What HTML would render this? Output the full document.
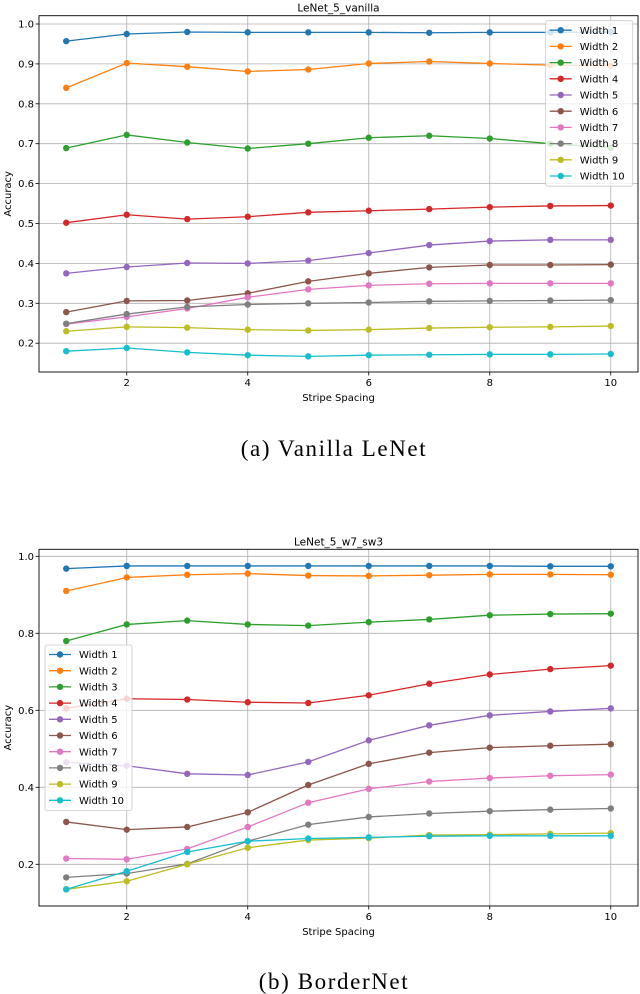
<!DOCTYPE html>
<html><head><meta charset="utf-8"><style>
body{margin:0;background:#fff;width:640px;height:994px;overflow:hidden}
svg{display:block}
text{font-family:"DejaVu Sans","Liberation Sans",sans-serif}
.cap{font-family:"Liberation Serif",serif;font-size:23px;letter-spacing:1.6px}
</style></head><body>
<svg id="svg" width="640" height="994">
<text class="cap" x="334" y="456" text-anchor="middle">(a) Vanilla LeNet</text>
<text class="cap" x="334" y="989" text-anchor="middle">(b) BorderNet</text>
</svg>
<script>
const xs=[1,2,3,4,5,6,7,8,9,10];
const seriesNames=["Width 1","Width 2","Width 3","Width 4","Width 5","Width 6","Width 7","Width 8","Width 9","Width 10"];
const colors=["#1f77b4","#ff7f0e","#2ca02c","#d62728","#9467bd","#8c564b","#e377c2","#7f7f7f","#bcbd22","#17becf"];
const xTicks=[2,4,6,8,10];
const yTicksA=[0.2,0.3,0.4,0.5,0.6,0.7,0.8,0.9,1.0];
const yTicksB=[0.2,0.4,0.6,0.8,1.0];
const a1=[.957,.975,.98,.979,.979,.979,.978,.979,.979,.98];
const a2=[.84,.902,.893,.881,.886,.901,.906,.901,.897,.895];
const a3=[.689,.722,.703,.688,.70,.715,.72,.713,.70,.69];
const a4=[.502,.522,.511,.517,.528,.532,.536,.541,.544,.545];
const a5=[.375,.391,.401,.40,.407,.426,.446,.456,.459,.459];
const a6=[.278,.306,.307,.325,.355,.375,.390,.396,.396,.397];
const a7=[.248,.266,.287,.315,.335,.345,.349,.350,.350,.350];
const a8=[.249,.273,.291,.297,.300,.302,.305,.306,.307,.308];
const a9=[.230,.241,.239,.234,.232,.234,.238,.240,.241,.243];
const a10=[.180,.188,.177,.170,.167,.170,.171,.172,.172,.173];
const b1=[.968,.975,.975,.975,.975,.975,.975,.975,.974,.974];
const b2=[.91,.945,.952,.955,.95,.949,.951,.953,.953,.952];
const b3=[.78,.823,.833,.823,.82,.829,.836,.847,.85,.851];
const b4=[.605,.63,.628,.621,.619,.639,.669,.693,.707,.716];
const b5=[.465,.456,.435,.432,.466,.522,.561,.587,.597,.605];
const b6=[.31,.29,.297,.335,.406,.461,.49,.503,.508,.512];
const b7=[.215,.213,.24,.297,.36,.396,.415,.424,.43,.433];
const b8=[.166,.176,.201,.26,.303,.323,.332,.338,.342,.345];
const b9=[.135,.156,.20,.243,.263,.268,.276,.277,.279,.281];
const b10=[.135,.182,.232,.26,.267,.27,.273,.274,.274,.274];
const seriesA=[a1,a2,a3,a4,a5,a6,a7,a8,a9,a10];
const seriesB=[b1,b2,b3,b4,b5,b6,b7,b8,b9,b10];
const NS="http://www.w3.org/2000/svg";
const svg=document.getElementById('svg');
function mk(tag,attrs,parent){const e=document.createElementNS(NS,tag);for(const k in attrs)e.setAttribute(k,attrs[k]);(parent||svg).appendChild(e);return e;}
function chart(cfg){
  const g=mk('g',{});
  
  
  const L=39,R=638,T=cfg.top,B=cfg.bottom;
  const xS=v=>L+(v-0.55)/(10.45-0.55)*(R-L);
  const yS=v=>cfg.y1+(1-v)*cfg.ppu;
  xTicks.forEach(t=>{const l=mk('line',{x1:xS(t),x2:xS(t),y1:T,y2:B,stroke:'#b0b0b0','stroke-width':0.8},g);
    
    mk('line',{x1:xS(t),x2:xS(t),y1:B,y2:B+3.5,stroke:'#000','stroke-width':0.8},g);
    const tx=mk('text',{x:xS(t),y:B+14,'font-size':'10','text-anchor':'middle'},g);tx.textContent=t;
    });
  cfg.yt.forEach(t=>{const y=yS(t);const l=mk('line',{x1:L,x2:R,y1:y,y2:y,stroke:'#b0b0b0','stroke-width':0.8},g);
    
    mk('line',{x1:L-3.5,x2:L,y1:y,y2:y,stroke:'#000','stroke-width':0.8},g);
    const tx=mk('text',{x:L-5,y:y+3.5,'font-size':'10','text-anchor':'end'},g);tx.textContent=t.toFixed(1);
    });
  cfg.data.forEach((s,i)=>{
    const pl=mk('polyline',{points:s.map((v,j)=>xS(xs[j])+','+yS(v)).join(' '),fill:'none',stroke:colors[i],'stroke-width':1.3},g);
    
    s.forEach((v,j)=>{const c=mk('circle',{cx:xS(xs[j]),cy:yS(v),r:3.2,fill:colors[i]},g);
      });
  });
  const fr=mk('rect',{x:L,y:T,width:R-L,height:B-T,fill:'none',stroke:'#000','stroke-width':0.9},g);
  
  const ti=mk('text',{x:(L+R)/2,y:T-4,'font-size':'10.5','text-anchor':'middle'},g);ti.textContent=cfg.title;
  
  const xl=mk('text',{x:(L+R)/2,y:B+29,'font-size':'10','text-anchor':'middle'},g);xl.textContent='Stripe Spacing';
  
  const cy=(T+B)/2;
  const yl=mk('text',{x:0,y:0,'font-size':'10','text-anchor':'middle',transform:`translate(11,${cy}) rotate(-90)`},g);yl.textContent='Accuracy';
  
  const lg=mk('g',{},g);
  
  mk('rect',{x:cfg.lx,y:cfg.ly,width:87,height:165.5,rx:2,fill:'#fff','fill-opacity':0.8,stroke:'#ccc','stroke-width':0.8},lg);
  seriesNames.forEach((n,i)=>{const y=cfg.ly+9.5+i*16.2;
    const e=mk('g',{},lg);
    
    mk('line',{x1:cfg.lx+4,x2:cfg.lx+26,y1:y,y2:y,stroke:colors[i],'stroke-width':1.3},e);
    mk('circle',{cx:cfg.lx+15,cy:y,r:3.2,fill:colors[i]},e);
    const t=mk('text',{x:cfg.lx+34,y:y+3.6,'font-size':'10'},e);t.textContent=n;});
}
chart({name:'chart-vanilla',title:'LeNet_5_vanilla',top:15.7,bottom:372,y1:24,ppu:399,yt:yTicksA,data:seriesA,lx:545.7,ly:20.7});
chart({name:'chart-bordernet',title:'LeNet_5_w7_sw3',top:549.3,bottom:906,y1:556.3,ppu:385,yt:yTicksB,data:seriesB,lx:45,ly:645});
</script>
</body></html>
